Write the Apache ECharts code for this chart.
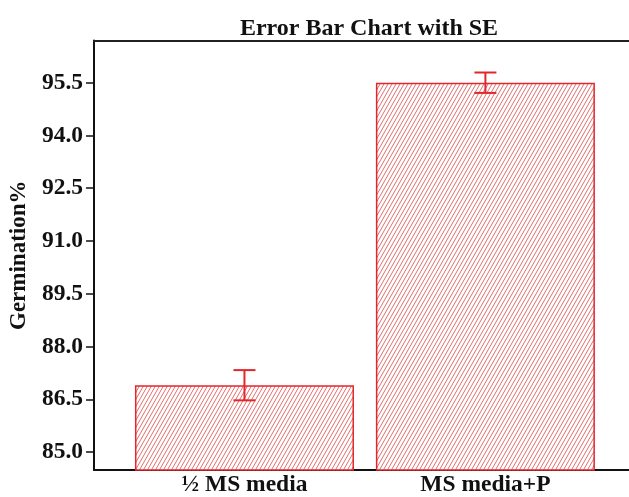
<!DOCTYPE html>
<html>
<head>
<meta charset="utf-8">
<script src="https://cdn.jsdelivr.net/npm/echarts@6/dist/echarts.min.js"></script>
<style>html,body{margin:0;padding:0;background:#fff;}#c{width:629px;height:497px;}</style>
</head>
<body>
<div id="c"></div>
<script>
const categories = ['½ MS media', 'MS media+P'];
const positions = [1, 2];
const means = [86.90, 95.50];
const se = [0.43, 0.29];
const yTicks = [85.0, 86.5, 88.0, 89.5, 91.0, 92.5, 94.0, 95.5];

const FONT = '"Liberation Serif", "Times New Roman", serif';
const RED = '#e3262c';

function hatch() {
  const w = 4, h = 7;
  const c = document.createElement('canvas');
  c.width = w; c.height = h;
  const g = c.getContext('2d');
  g.fillStyle = '#ffffff';
  g.fillRect(0, 0, w, h);
  g.strokeStyle = 'rgba(220,75,75,0.8)';
  g.lineWidth = 1;
  for (let k = -1; k <= 1; k++) {
    g.beginPath();
    g.moveTo(k * w, h);
    g.lineTo(k * w + w, 0);
    g.stroke();
  }
  return c;
}

const chart = echarts.init(document.getElementById('c'), null, {renderer: 'canvas'});
const barData = positions.map((p, i) => [p, means[i]]);
const errData = positions.map((p, i) => [p, means[i] - se[i], means[i] + se[i]]);

chart.setOption({
  animation: false,
  backgroundColor: '#ffffff',
  title: {
    text: 'Error Bar Chart with SE',
    left: 364, top: 12, textAlign: 'center',
    textStyle: {fontFamily: FONT, fontWeight: 'bold', fontSize: 24, color: '#111'}
  },
  grid: {left: 92.7, top: 40.5, right: 0, bottom: 26, containLabel: false},
  xAxis: [{
    type: 'value', min: 0.3756, max: 2.596,
    axisLine: {show: true, lineStyle: {color: '#111', width: 2}},
    axisTick: {show: false},
    splitLine: {show: false},
    axisLabel: {
      customValues: positions,
      formatter: v => categories[positions.indexOf(Math.round(v))] || '',
      fontFamily: FONT, fontWeight: 'bold', fontSize: 23.5, color: '#111', margin: 3
    }
  }, {
    type: 'value', position: 'top', min: 0.3756, max: 2.596,
    axisLine: {show: true, onZero: false, lineStyle: {color: '#222', width: 2}},
    axisTick: {show: false}, axisLabel: {show: false}, splitLine: {show: false}
  }],
  yAxis: {
    type: 'value', min: 84.49, max: 96.70,
    name: 'Germination%', nameLocation: 'middle', nameGap: 58,
    nameTextStyle: {fontFamily: FONT, fontWeight: 'bold', fontSize: 23, color: '#111'},
    axisLine: {show: true, lineStyle: {color: '#111', width: 2}},
    axisTick: {show: true, customValues: yTicks, length: 8, lineStyle: {color: '#111', width: 1.5}},
    axisLabel: {
      customValues: yTicks,
      formatter: v => v.toFixed(1),
      fontFamily: FONT, fontWeight: 'bold', fontSize: 23.5, color: '#111', margin: 11
    },
    splitLine: {show: false}
  },
  series: [{
    type: 'bar',
    data: barData,
    barWidth: 219,
    itemStyle: {
      color: {image: hatch(), repeat: 'repeat'},
      borderColor: RED, borderWidth: 1.5
    }
  }, {
    type: 'custom',
    data: errData,
    z: 10,
    renderItem: function (params, api) {
      const x = api.value(0);
      const lo = api.coord([x, api.value(1)]);
      const hi = api.coord([x, api.value(2)]);
      const cap = 11;
      const style = {stroke: RED, lineWidth: 2};
      return {
        type: 'group',
        children: [
          {type: 'line', shape: {x1: lo[0], y1: lo[1], x2: hi[0], y2: hi[1]}, style},
          {type: 'line', shape: {x1: lo[0] - cap, y1: lo[1], x2: lo[0] + cap, y2: lo[1]}, style},
          {type: 'line', shape: {x1: hi[0] - cap, y1: hi[1], x2: hi[0] + cap, y2: hi[1]}, style}
        ]
      };
    }
  }]
});
</script>
</body>
</html>
